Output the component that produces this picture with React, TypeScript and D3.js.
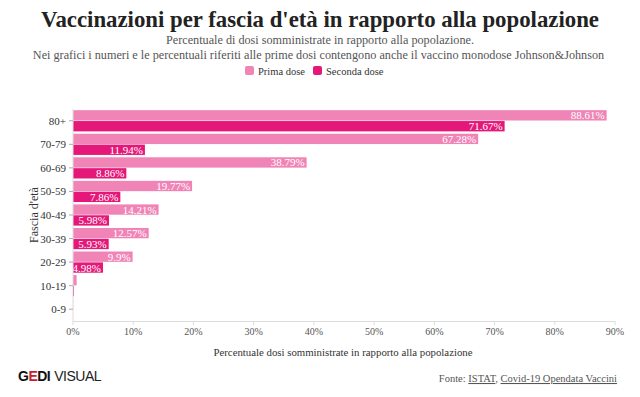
import React from "react";
import * as d3 from "d3";

const categories = ["80+", "70-79", "60-69", "50-59", "40-49", "30-39", "20-29", "10-19", "0-9"];
const seriesNames = ["Prima dose", "Seconda dose"];
const primaDose = [88.61, 67.28, 38.79, 19.77, 14.21, 12.57, 9.9, 0.6, 0.02];
const secondaDose = [71.67, 11.94, 8.86, 7.86, 5.98, 5.93, 4.98, 0.15, 0.0];
const xTicks = [0, 10, 20, 30, 40, 50, 60, 70, 80, 90];
const colors = ["#f084b6", "#e5187a"];

const W = 640;
const H = 397;
const serif = "Liberation Serif, DejaVu Serif, serif";
const sans = "Liberation Sans, Arial, sans-serif";

export default function App() {
  const x = d3.scaleLinear().domain([0, 90]).range([73, 615]);
  const y = d3.scaleBand<string>().domain(categories).range([109, 321]).paddingInner(0.1).paddingOuter(0.05);
  const sub = d3.scaleBand<string>().domain(seriesNames).range([0, y.bandwidth()]).paddingInner(0.05);
  const series = [primaDose, secondaDose];
  const fmt = (v: number) => `${String(v)}%`;
  const S = { fontFamily: serif };

  return (
    <svg width={W} height={H} style={{ position: "absolute", left: 0, top: 0, background: "#fff" }}>
      <text x={320} y={27} textAnchor="middle" fontSize={22.8} fontWeight="bold" fill="#222" style={S}>
        Vaccinazioni per fascia d'età in rapporto alla popolazione
      </text>
      <text x={320} y={44} textAnchor="middle" fontSize={12.2} fill="#555" style={S}>
        Percentuale di dosi somministrate in rapporto alla popolazione.
      </text>
      <text x={318.5} y={59} textAnchor="middle" fontSize={12.2} fill="#555" style={S}>
        Nei grafici i numeri e le percentuali riferiti alle prime dosi contengono anche il vaccino monodose Johnson&amp;Johnson
      </text>
      {/* legend */}
      <rect x={245} y={66} width={9} height={9} rx={2} fill={colors[0]} />
      <text x={258} y={74.5} fontSize={10.5} fill="#333" style={S}>{seriesNames[0]}</text>
      <rect x={313} y={66} width={9} height={9} rx={2} fill={colors[1]} />
      <text x={326} y={74.5} fontSize={10.5} fill="#333" style={S}>{seriesNames[1]}</text>

      {/* bars */}
      {categories.map((c, i) => (
        <g key={c}>
          {series.map((s, j) => {
            const v = s[i];
            const y0 = (y(c) ?? 0) + (sub(seriesNames[j]) ?? 0);
            const w = x(v) - x(0);
            return (
              <g key={j}>
                <rect x={x(0)} y={y0} width={Math.max(0, w)} height={sub.bandwidth()} fill={colors[j]} />
                {v >= 4 && (
                  <text x={x(v) - 2} y={y0 + sub.bandwidth() / 2 + 4} textAnchor="end" fontSize={11} fill="#fff" style={S}>
                    {fmt(v)}
                  </text>
                )}
              </g>
            );
          })}
        </g>
      ))}

      {/* y axis */}
      <line x1={73} x2={73} y1={109} y2={321} stroke="#ddd" />
      {categories.map((c) => {
        const cy = (y(c) ?? 0) + y.bandwidth() / 2;
        return (
          <g key={c}>
            <line x1={69} x2={73} y1={cy} y2={cy} stroke="#aaa" />
            <text x={66} y={cy + 4} textAnchor="end" fontSize={11} fill="#333" style={S}>
              {c}
            </text>
          </g>
        );
      })}
      <text transform="translate(38,215) rotate(-90)" textAnchor="middle" fontSize={12} fill="#333" style={S}>
        Fascia d'età
      </text>

      {/* x axis */}
      <line x1={73} x2={615} y1={321.5} y2={321.5} stroke="#ddd" />
      {xTicks.map((t) => (
        <g key={t}>
          <line x1={x(t)} x2={x(t)} y1={321} y2={325} stroke="#ddd" />
          <text x={x(t)} y={335} textAnchor="middle" fontSize={10} fill="#555" style={S}>
            {`${t}%`}
          </text>
        </g>
      ))}
      <text x={343} y={356} textAnchor="middle" fontSize={10.8} fill="#333" style={S}>
        Percentuale dosi somministrate in rapporto alla popolazione
      </text>

      {/* footer */}
      <text x={18} y={381} fill="#111" fontSize={14} letterSpacing={-0.5} style={{ fontFamily: sans }}>
        <tspan fontWeight="bold">G</tspan>
        <tspan fontWeight="bold" fill="#c8202f">E</tspan>
        <tspan fontWeight="bold">DI</tspan>
        <tspan dx={4} fill="#222">VISUAL</tspan>
      </text>
      <text x={617} y={382} textAnchor="end" fontSize={10.5} fill="#555" style={S}>
        Fonte: <tspan textDecoration="underline">ISTAT</tspan>, <tspan textDecoration="underline">Covid-19 Opendata Vaccini</tspan>
      </text>
    </svg>
  );
}
